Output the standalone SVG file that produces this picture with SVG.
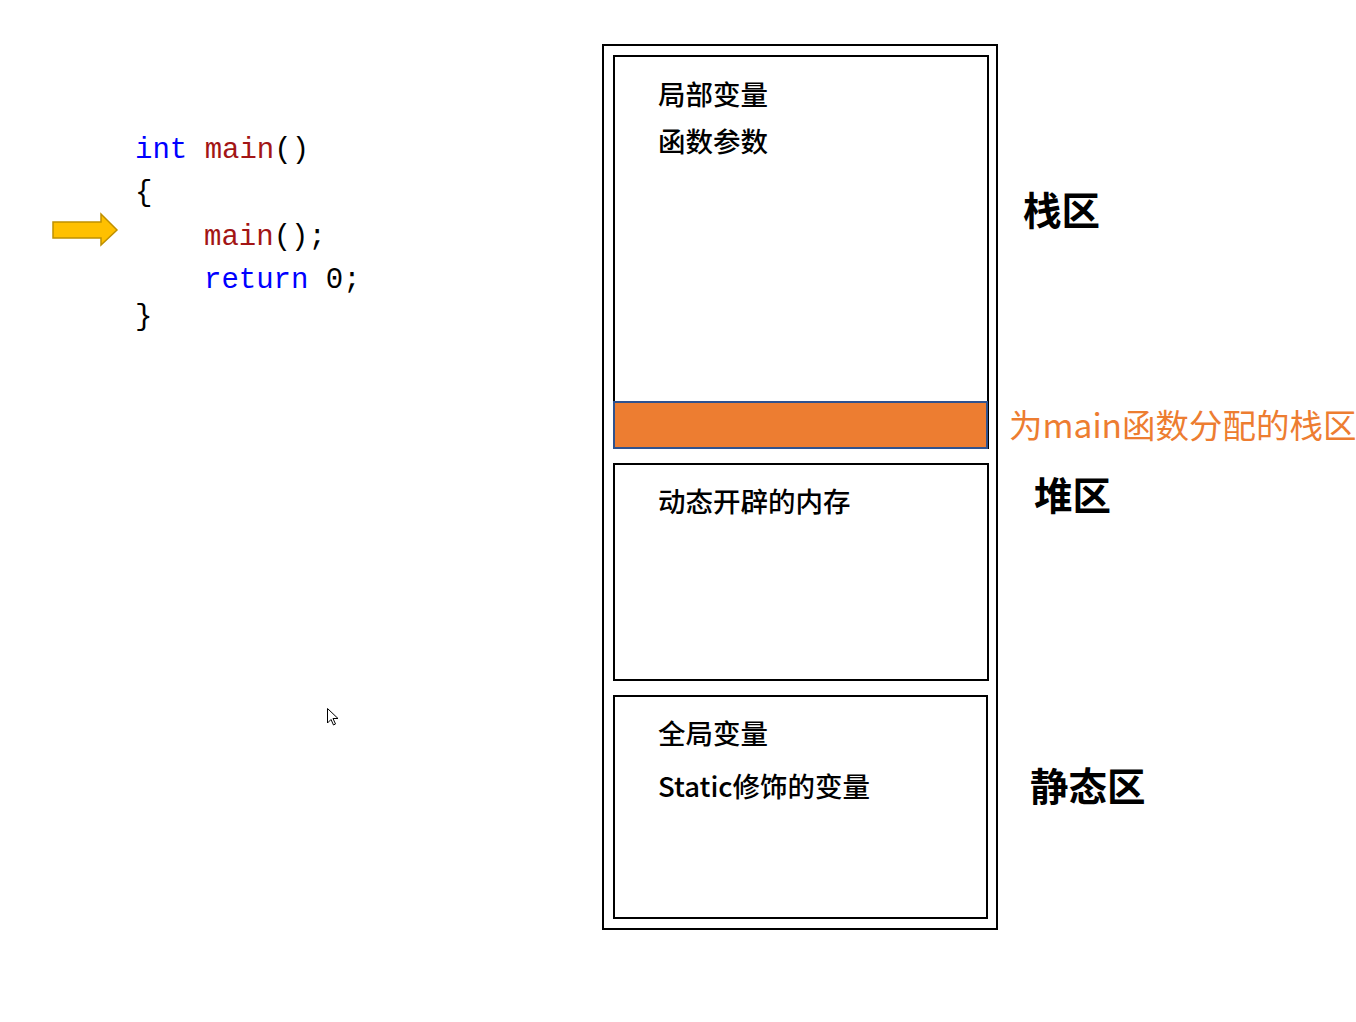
<svg xmlns="http://www.w3.org/2000/svg" width="1356" height="1022" viewBox="0 0 1356 1022">
<style>
.code{font-family:"Liberation Mono","DejaVu Sans Mono",monospace;font-size:29px}
.kw{fill:#0000FF}
.fn{fill:#A31515}
.pl{fill:#000}
.box{fill:#fff;stroke:#000;stroke-width:2}
.lbl{font-family:"Noto Sans CJK SC",sans-serif;font-size:27.5px;font-weight:500;fill:#000}
.big{font-family:"Noto Sans CJK SC",sans-serif;font-size:38.5px;font-weight:bold;fill:#000}
</style>
<rect width="1356" height="1022" fill="#fff"/>
<g id="code">
<text class="code" x="135" y="158"><tspan class="kw">int</tspan><tspan class="pl"> </tspan><tspan class="fn">main</tspan><tspan class="pl">()</tspan></text>
<text class="code pl" x="135" y="201">{</text>
<text class="code" x="204" y="245"><tspan class="fn">main</tspan><tspan class="pl">();</tspan></text>
<text class="code" x="204" y="288"><tspan class="kw">return</tspan><tspan class="pl"> 0;</tspan></text>
<text class="code pl" x="135" y="325">}</text>
</g>
<g id="pointer-arrow">
<polygon points="53,222 101,222 101,214 117,230 101,245 101,238 53,238" fill="#FFC000" stroke="#BF9000" stroke-width="1.5"/>
</g>
<g id="cursor">
<path d="M327.5,708.5 L327.5,723 L331,719.5 L333.5,725 L335.5,724 L333,718.5 L338,718.5 Z" fill="#fff" stroke="#000" stroke-width="1"/>
</g>
<g id="memory">
<rect class="box" x="603" y="45" width="394" height="884"/>
</g>
<g id="stack">
<rect class="box" x="614" y="56" width="374" height="392"/>
<text class="lbl" x="658" y="105">局部变量</text>
<text class="lbl" x="658" y="152">函数参数</text>
<text class="big" x="1023" y="225">栈区</text>
</g>
<g id="main-frame">
<rect x="614" y="402" width="373" height="46" fill="#ED7D31" stroke="#2F528F" stroke-width="2"/>
<text x="1009" y="438" font-family="Noto Sans CJK SC, sans-serif" font-size="33.5" fill="#ED7D31">为main函数分配的栈区</text>
</g>
<g id="heap">
<rect class="box" x="614" y="464" width="374" height="216"/>
<text class="lbl" x="658" y="512">动态开辟的内存</text>
<text class="big" x="1034" y="510">堆区</text>
</g>
<g id="static">
<rect class="box" x="614" y="696" width="373" height="222"/>
<text class="lbl" x="658" y="744">全局变量</text>
<text class="lbl" x="658" y="797">Static修饰的变量</text>
<text class="big" x="1030" y="801">静态区</text>
</g>
<g id="connectors"/>
</svg>
